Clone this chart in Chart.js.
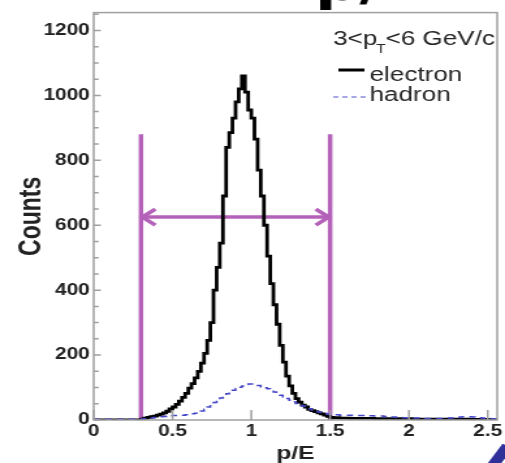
<!DOCTYPE html>
<html>
<head>
<meta charset="utf-8">
<script src="https://cdn.jsdelivr.net/npm/chart.js@4/dist/chart.umd.min.js"></script>
<style>
  html, body { margin: 0; padding: 0; background: #fff; overflow: hidden; }
  /* the figure is drawn narrow and widened, like the ROOT canvas it comes from */
  #wrap { position: absolute; left: 0; top: 0; width: 388px; height: 463px;
          transform: scaleX(1.3015); transform-origin: 0 0; }
</style>
</head>
<body>
<div id="wrap"><canvas id="pe"></canvas></div>
<script>
// p/E histograms, 0.02 wide bins starting at 0
var binWidth = 0.02;
var electronCounts = [
  0, 0, 0, 0, 0, 0, 0, 0, 0, 0,
  0, 0, 0, 0, 0, 3, 6, 8, 10, 12,
  15, 18, 22, 27, 34, 40, 48, 58, 70, 82,
  98, 112, 130, 150, 175, 205, 245, 300, 400, 470,
  545, 690, 840, 885, 930, 980, 1020, 1060, 1010, 955,
  930, 865, 770, 690, 600, 505, 420, 355, 295, 230,
  178, 135, 105, 82, 66, 55, 46, 40, 33, 29,
  26, 22, 19, 15, 11, 8, 7, 7, 6, 6,
  6, 5, 5, 5, 5, 5, 5, 5, 5, 4,
  4, 4, 4, 4, 4, 4, 4, 4, 4, 4,
  4, 3, 3, 3, 3, 3, 3, 3, 3, 3,
  3, 3, 3, 3, 3, 3, 3, 3, 3, 2,
  2, 2, 2, 2, 2, 2, 2, 2
];
var hadronCounts = [
  2, 2, 2, 2, 2, 2, 2, 2, 2, 2,
  2, 2, 2, 2, 2, 3, 4, 5, 6, 8,
  9, 10, 11, 12, 13, 14, 14, 15, 15, 16,
  17, 19, 21, 24, 28, 33, 40, 47, 54, 61,
  68, 75, 81, 87, 92, 97, 101, 105, 109, 111,
  111, 109, 106, 102, 99, 96, 91, 86, 81, 76,
  71, 66, 61, 56, 51, 47, 43, 39, 35, 31,
  28, 25, 22, 20, 18, 17, 16, 16, 15, 15,
  15, 15, 14, 14, 14, 14, 13, 13, 13, 12,
  12, 12, 11, 10, 9, 9, 8, 8, 7, 7,
  7, 6, 6, 6, 6, 5, 5, 5, 5, 5,
  5, 5, 6, 6, 7, 8, 9, 10, 10, 10,
  9, 8, 7, 6, 5, 5, 4, 4
];
// electron selection window
var cutLow = 0.3;
var cutHigh = 1.5;
var cutLineTop = 880;
var arrowLevel = 625;

var xTicks = [0, 0.5, 1, 1.5, 2, 2.5];
var yTicks = [0, 200, 400, 600, 800, 1000, 1200];

var FONT = "'Liberation Sans', Arial, Helvetica, sans-serif";
var MAGENTA = '#b462b9';

// step outline: each bin value holds until the next edge
function toSteps(counts) {
  var pts = counts.map(function (c, i) { return { x: +(i * binWidth).toFixed(2), y: c }; });
  pts.push({ x: +(counts.length * binWidth).toFixed(2), y: counts[counts.length - 1] });
  return pts;
}

var rootStyle = {
  id: 'rootStyle',
  beforeDatasetsDraw: function (chart) {
    // open arrow heads at both ends of the window arrow
    var ctx = chart.ctx, xs = chart.scales.x, ys = chart.scales.y;
    var yA = ys.getPixelForValue(arrowLevel);
    var l = xs.getPixelForValue(cutLow), r = xs.getPixelForValue(cutHigh);
    ctx.save();
    ctx.strokeStyle = MAGENTA;
    ctx.lineWidth = 3.5;
    ctx.beginPath();
    ctx.moveTo(l + 11, yA - 8); ctx.lineTo(l + 1, yA); ctx.lineTo(l + 11, yA + 8);
    ctx.moveTo(r - 11, yA - 8); ctx.lineTo(r - 1, yA); ctx.lineTo(r - 11, yA + 8);
    ctx.stroke();
    ctx.restore();
  },
  afterDraw: function (chart) {
    var ctx = chart.ctx, a = chart.chartArea, xs = chart.scales.x, ys = chart.scales.y;
    ctx.save();
    // frame and inward ticks
    ctx.strokeStyle = '#a0a0a0';
    ctx.lineWidth = 1.5;
    ctx.strokeRect(a.left, a.top, a.right - a.left, a.bottom - a.top);
    ctx.beginPath();
    for (var v = 0; v <= 1250; v += 50) {
      var py = ys.getPixelForValue(v);
      var len = (v % 200 === 0) ? 5.5 : 3.8;
      ctx.moveTo(a.left, py); ctx.lineTo(a.left + len, py);
    }
    xTicks.forEach(function (t) {
      var px = xs.getPixelForValue(t);
      ctx.moveTo(px, a.bottom); ctx.lineTo(px, a.bottom - 10);
    });
    ctx.stroke();

    // legend block
    ctx.fillStyle = '#262626';
    ctx.textBaseline = 'alphabetic';
    ctx.textAlign = 'left';
    ctx.font = '20px ' + FONT;
    var hx = 256, hy = 45;
    ctx.fillText('3<p', hx, hy);
    hx += ctx.measureText('3<p').width;
    ctx.font = '12px ' + FONT;
    ctx.fillText('T', hx - 1, hy + 8);
    hx += ctx.measureText('T').width - 1;
    ctx.font = '20px ' + FONT;
    ctx.fillText('<6 GeV/c', hx, hy);

    ctx.strokeStyle = '#000';
    ctx.lineWidth = 3;
    ctx.beginPath(); ctx.moveTo(260, 70); ctx.lineTo(280, 70); ctx.stroke();
    ctx.fillText('electron', 284, 81);

    ctx.strokeStyle = '#8c8ce0';
    ctx.lineWidth = 1.3;
    ctx.setLineDash([4, 3]);
    ctx.beginPath(); ctx.moveTo(256, 97); ctx.lineTo(282, 97); ctx.stroke();
    ctx.setLineDash([]);
    ctx.fillText('hadron', 284, 101);

    // heading cut by the top edge
    ctx.fillStyle = '#000';
    ctx.font = "bold 48px 'DejaVu Sans', sans-serif";
    ctx.fillText('p/', 242, 0);

    // corner of the slide arrow
    ctx.strokeStyle = '#30309a';
    ctx.lineWidth = 9;
    ctx.beginPath(); ctx.moveTo(376, 470); ctx.lineTo(390, 446); ctx.stroke();
    ctx.restore();
  }
};

new Chart(document.getElementById('pe'), {
  type: 'line',
  data: {
    datasets: [
      { label: 'hadron', data: toSteps(hadronCounts), stepped: true,
        borderColor: '#4646c8', borderWidth: 1.5, borderDash: [5, 4], pointRadius: 0, fill: false },
      { label: 'electron', data: toSteps(electronCounts), stepped: true,
        borderColor: '#000', borderWidth: 2.8, pointRadius: 0, fill: false },
      { label: 'window', data: [{ x: cutLow, y: arrowLevel }, { x: cutHigh, y: arrowLevel }],
        borderColor: MAGENTA, borderWidth: 3.5, pointRadius: 0 },
      { label: 'low cut', data: [{ x: cutLow, y: 0 }, { x: cutLow, y: cutLineTop }],
        borderColor: MAGENTA, borderWidth: 3.5, pointRadius: 0 },
      { label: 'high cut', data: [{ x: cutHigh, y: 0 }, { x: cutHigh, y: cutLineTop }],
        borderColor: MAGENTA, borderWidth: 3.5, pointRadius: 0 }
    ]
  },
  options: {
    responsive: true,
    maintainAspectRatio: false,
    animation: false,
    devicePixelRatio: 1,
    layout: { padding: { top: 12, right: 6, left: 0, bottom: 0 } },
    plugins: { legend: { display: false }, tooltip: { enabled: false } },
    scales: {
      x: {
        type: 'linear', min: 0, max: 2.56,
        grid: { display: false, drawTicks: false },
        border: { display: false },
        afterBuildTicks: function (s) { s.ticks = xTicks.map(function (v) { return { value: v }; }); },
        ticks: { autoSkip: false, maxRotation: 0, padding: 2, color: '#222',
                 callback: function (v) { return String(v); },
                 font: { family: FONT, size: 16, weight: 'bold' } },
        title: { display: true, text: 'p/E', color: '#222', padding: { top: 0, bottom: 0 },
                 font: { family: FONT, size: 19, weight: 'bold', lineHeight: 1 } },
        afterFit: function (s) { s.height = 43; }
      },
      y: {
        type: 'linear', min: 0, max: 1255,
        grid: { display: false, drawTicks: false },
        border: { display: false },
        afterBuildTicks: function (s) { s.ticks = yTicks.map(function (v) { return { value: v }; }); },
        ticks: { padding: 3, color: '#222', callback: function (v) { return String(v); },
                 font: { family: FONT, size: 16, weight: 'bold' } },
        title: { display: true, text: 'Counts', color: '#222', padding: { top: 13, bottom: 0 },
                 font: { family: FONT, size: 23, weight: 'bold', lineHeight: 1 } },
        afterFit: function (s) { s.width = 72; }
      }
    }
  },
  plugins: [rootStyle]
});
</script>
</body>
</html>
